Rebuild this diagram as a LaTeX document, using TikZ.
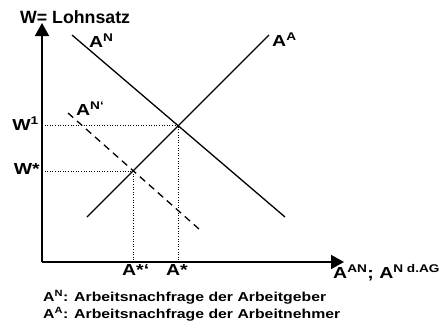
\documentclass[tikz,border=0pt]{standalone}
\usepackage{fontspec}
\setmainfont{Liberation Sans}
\newfontfamily\widefont[FakeStretch=1.22]{Liberation Sans}
\usetikzlibrary{arrows.meta,positioning}
\newcommand{\hs}[1]{\textsuperscript{#1}}

\begin{document}
\begin{tikzpicture}[x=1bp, y=-1bp,
  axis/.style={line width=1.6bp, -{Triangle[length=13bp, width=14bp]}},
  curve/.style={line width=1.3bp},
  shifted/.style={line width=1.3bp, dash pattern=on 7bp off 5bp},
  guide/.style={line width=1bp, dash pattern=on 1bp off 1.6bp},
  lbl/.style={inner sep=0pt, font=\widefont\fontsize{16}{18}\selectfont\bfseries},
  legend/.style={inner sep=0pt, font=\widefont\fontsize{13}{15}\selectfont\bfseries}
]
\useasboundingbox (0,0) rectangle (441,323);
% axes
\coordinate (O) at (42,262);
\coordinate (ytip) at (42,23);
\coordinate (xtip) at (344,262);
\draw[axis] (O) -- (ytip);
\draw[axis] (O) -- (xtip);
\node[anchor=base west, inner sep=0pt, font=\fontsize{17.8}{22}\selectfont\bfseries] (title) at (20,23) {W= Lohnsatz};
% curves
\coordinate (dTop) at (72,35);
\coordinate (dBot) at (285,217);
\coordinate (sBot) at (87,217);
\coordinate (sTop) at (269,35);
\coordinate (nTop) at (68,113);
\coordinate (nBot) at (199,229);
\coordinate (E1) at (178,125);
\coordinate (E2) at (133,171);
\draw[curve] (dTop) -- (dBot);
\draw[curve] (sBot) -- (sTop);
\draw[shifted] (nTop) -- (nBot);
% guides
\draw[guide] (E1 -| O) -- (E1) -- (E1 |- O);
\draw[guide] (E2 -| O) -- (E2) -- (E2 |- O);
% labels
\node[lbl, anchor=west] (an) at (89,41) {A\hs{N}};
\node[lbl, anchor=west] (aa) at (272,40) {A\hs{A}};
\node[lbl, anchor=west] (an2) at (76,109) {A\hs{N‘}};
\node[lbl, anchor=east] (w1) at (39,124) {W\hs{1}};
\node[lbl, anchor=east] (ws) at (40,169) {W*};
\node[lbl, anchor=north west] (as2) at (122,264) {A*‘};
\node[lbl, anchor=north west] (as) at (166,264) {A*};
\node[lbl, anchor=north west] (xlab) at (333,264) {A\hs{AN}; A\hs{N d.AG}};
% legend
\node[legend, anchor=base west] (leg1) at (43,301) {A\hs{N}: Arbeitsnachfrage der Arbeitgeber};
\node[legend, anchor=base west] (leg2) at (43,318) {A\hs{A}: Arbeitsnachfrage der Arbeitnehmer};
\end{tikzpicture}
\end{document}
